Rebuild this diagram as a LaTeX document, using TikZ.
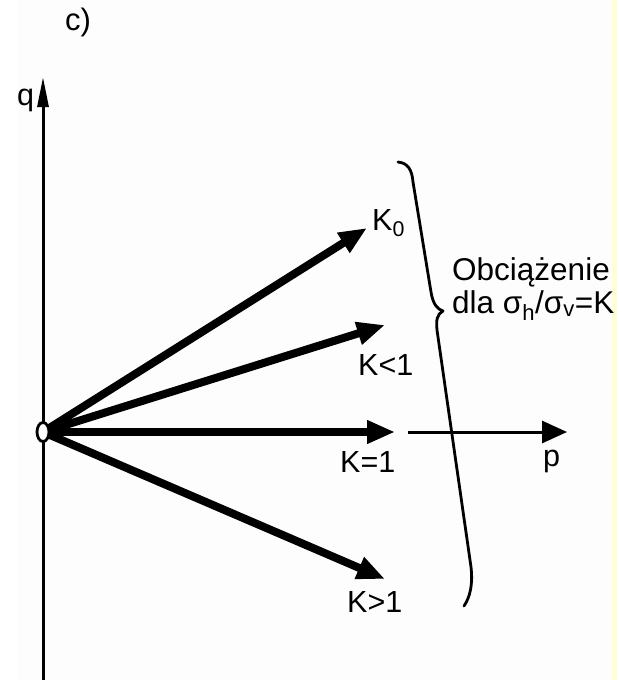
\documentclass[tikz,border=0pt]{standalone}
\usepackage{fontspec}
\setmainfont{Liberation Sans}
\usetikzlibrary{arrows.meta,shapes.geometric}
\definecolor{paleyellow}{RGB}{255,255,214}
\definecolor{bgray}{RGB}{253,253,253}
\begin{document}
\begin{tikzpicture}[x=1pt,y=-1pt,
  lbl/.style={inner sep=0pt,anchor=base west,font=\fontsize{30.5}{33}\selectfont},
  thickarrow/.style={line width=8pt,-{Triangle[length=28pt,width=22pt]}},
  axisline/.style={line width=3pt},
  bracestyle/.style={line width=2.8pt,line cap=round,line join=round}]
\useasboundingbox (0,0) rectangle (617,680);
\fill[white] (0,0) rectangle (617,680);
\fill[bgray] (17,0) rectangle (612,680);
\fill[paleyellow] (612,0) rectangle (617,680);
% labels
\node[lbl,font=\fontsize{31}{34}\selectfont] (c) at (65,30) {c)};
\node[lbl] (q) at (17,105) {q};
% q axis
\coordinate (qtop) at (43,77);
\coordinate (qbot) at (43,680);
\draw[axisline,-{Triangle[length=30pt,width=11pt]}] (qbot) -- (qtop);
% origin
\node[draw,ellipse,line width=2.8pt,fill=white,minimum width=12pt,minimum height=19pt,inner sep=0pt] (o) at (43,432) {};
% tips
\coordinate (tk0) at (367,228);
\coordinate (tkl) at (385,325);
\coordinate (tke) at (395,432);
\coordinate (tkg) at (385,579);
\draw[thickarrow] (o) -- (tk0);
\draw[thickarrow] (o) -- (tkl);
\draw[thickarrow] (o) -- (tke);
\draw[thickarrow] (o) -- (tkg);
% p axis
\coordinate (ps) at (408,432);
\coordinate (pe) at (567,432);
\draw[axisline,-{Triangle[length=25pt,width=22pt]}] (ps) -- (pe);
% brace
\draw[bracestyle] (398,162) .. controls (408,163) and (412,170) .. (413,182)
  -- (431,292) .. controls (433,304) and (437,309) .. (443,311)
  .. controls (437,314) and (436,320) .. (437,330)
  -- (471,567) .. controls (473,585) and (470,597) .. (464,606);
% text labels
\node[lbl] (k0) at (372,230) {K\textsubscript{0}};
\node[lbl] (kl) at (358,375) {K<1};
\node[lbl] (ke) at (340,472) {K=1};
\node[lbl] (kg) at (347,612) {K>1};
\node[lbl] (p) at (543,466) {p};
\node[lbl,font=\fontsize{31.5}{34}\selectfont] (ob) at (452,280) {Obciążenie};
\node[lbl,font=\fontsize{31.5}{34}\selectfont] (dla) at (452,313) {dla σ\textsubscript{h}/σ\textsubscript{v}=K};
\end{tikzpicture}
\end{document}
